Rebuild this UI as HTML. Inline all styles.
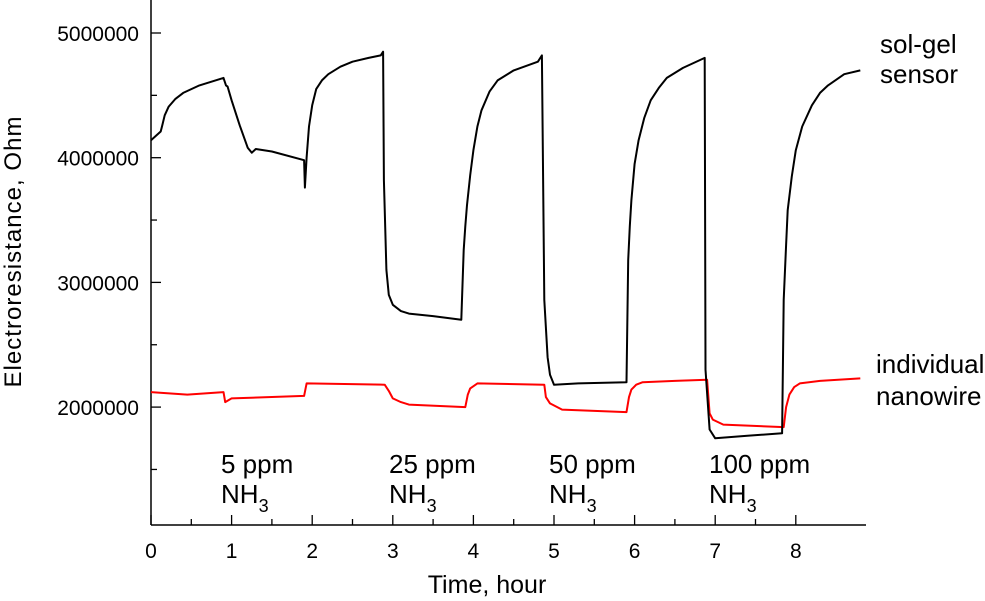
<!DOCTYPE html>
<html><head><meta charset="utf-8"><style>
html,body{margin:0;padding:0;background:#fff;}
svg{display:block;font-family:"Liberation Sans",Arial,sans-serif;}
</style></head><body>
<svg id="chart" width="985" height="601" viewBox="0 0 985 601" xmlns="http://www.w3.org/2000/svg"></svg>
<script>
const solgelTime=[0,0.12,0.14,0.17,0.22,0.3,0.4,0.6,0.9,0.93,0.95,1.0,1.1,1.2,1.25,1.3,1.5,1.9,1.91,1.93,1.96,2.0,2.05,2.12,2.2,2.35,2.5,2.7,2.85,2.88,2.89,2.92,2.95,3.0,3.1,3.2,3.5,3.85,3.88,3.9,3.92,3.96,4.0,4.05,4.1,4.2,4.3,4.5,4.8,4.85,4.88,4.92,4.95,5.0,5.3,5.9,5.92,5.94,5.96,6.0,6.05,6.12,6.2,6.3,6.4,6.6,6.87,6.88,6.93,7.0,7.4,7.83,7.85,7.88,7.9,7.95,8.0,8.08,8.2,8.3,8.4,8.6,8.8];
const solgelValue=[4.14,4.21,4.26,4.34,4.41,4.47,4.52,4.58,4.64,4.58,4.57,4.46,4.26,4.08,4.04,4.07,4.05,3.98,3.76,4.0,4.25,4.42,4.55,4.62,4.67,4.73,4.77,4.80,4.82,4.85,3.82,3.1,2.9,2.82,2.77,2.75,2.73,2.70,3.26,3.45,3.62,3.86,4.06,4.25,4.38,4.53,4.62,4.70,4.77,4.82,2.86,2.4,2.26,2.18,2.19,2.2,3.18,3.45,3.66,3.95,4.14,4.32,4.46,4.56,4.64,4.72,4.80,2.3,1.82,1.75,1.77,1.79,2.86,3.3,3.58,3.85,4.06,4.25,4.42,4.52,4.58,4.67,4.70];
const wireTime=[0,0.45,0.9,0.92,1.0,1.9,1.93,2.9,2.95,3.0,3.1,3.2,3.9,3.93,3.96,4.05,4.88,4.9,4.95,5.1,5.9,5.93,5.96,6.02,6.1,6.5,6.9,6.93,6.97,7.1,7.85,7.88,7.92,7.98,8.05,8.3,8.8];
const wireValue=[2.12,2.10,2.12,2.04,2.07,2.09,2.19,2.18,2.13,2.07,2.04,2.02,2.0,2.1,2.15,2.19,2.18,2.08,2.03,1.98,1.96,2.08,2.14,2.18,2.2,2.21,2.22,1.95,1.9,1.86,1.84,2.0,2.1,2.16,2.19,2.21,2.23];
const xTicks=[0,1,2,3,4,5,6,7,8];
const yTicks=[2000000,3000000,4000000,5000000];
const yMinor=[1500000,2500000,3500000,4500000];

const NS="http://www.w3.org/2000/svg";
const svg=document.getElementById('chart');
const X=t=>151+t*80.6;
const Y=v=>33+(5-v)*124.7; // v in millions
const L=151,B=525,R=866,T=0;
function el(tag,attrs,parent){const e=document.createElementNS(NS,tag);for(const k in attrs)e.setAttribute(k,attrs[k]);(parent||svg).appendChild(e);return e;}
function txt(x,y,s,size,anchor,parent){const e=el('text',{x:x,y:y,'font-size':size,'text-anchor':anchor||'start',fill:'#000'},parent);e.textContent=s;return e;}

const axes=el('g',{});


el('line',{x1:L,y1:T,x2:L,y2:B,stroke:'#000','stroke-width':1.5},axes);
el('line',{x1:L,y1:B,x2:R,y2:B,stroke:'#000','stroke-width':1.5},axes);
xTicks.forEach(t=>{
  el('line',{x1:X(t),y1:B,x2:X(t),y2:B-10,stroke:'#000','stroke-width':1.3},axes);
  const lb=txt(X(t),558,String(t),21,'middle',axes);
  
  
  if(t<8) el('line',{x1:X(t+0.5),y1:B,x2:X(t+0.5),y2:B-6,stroke:'#000','stroke-width':1.3},axes);
});
yTicks.forEach(v=>{
  const y=Y(v/1e6);
  el('line',{x1:L,y1:y,x2:L+10,y2:y,stroke:'#000','stroke-width':1.3},axes);
  const lb=txt(139,y+8,String(v),21,'end',axes);
  
  
});
yMinor.forEach(v=>{const y=Y(v/1e6);el('line',{x1:L,y1:y,x2:L+6,y2:y,stroke:'#000','stroke-width':1.3},axes);});

function series(ts,vs,color,name){
  const d=ts.map((t,i)=>(i?'L':'M')+X(t).toFixed(1)+' '+Y(vs[i]).toFixed(1)).join(' ');
  const p=el('path',{d:d,fill:'none',stroke:color,'stroke-width':2,'stroke-linejoin':'round'});
  
  
}
series(wireTime,wireValue,'#ff0000','nanowire-line');
series(solgelTime,solgelValue,'#000','sol-gel-line');

const xt=txt(487,593,'Time, hour',25,'middle');


const yt=txt(0,0,'Electroresistance, Ohm',24,'middle');
yt.setAttribute('transform','translate(21,252) rotate(-90)');
yt.setAttribute('textLength','271');



[['sol-gel',880,53],['sensor',880,83],['individual',876,373],['nanowire',876,405]].forEach(a=>{
  const e=txt(a[1],a[2],a[0],26,'start');
  
  
});
[['5 ppm',221],['25 ppm',389],['50 ppm',549],['100 ppm',709]].forEach(a=>{
  const g=el('g',{});
  
  
  txt(a[1],473,a[0],26,'start',g);
  const n=txt(a[1],503,'NH',26,'start',g);
  const s=el('tspan',{dy:9,'font-size':18},n);s.textContent='3';
});
</script>
</body></html>
